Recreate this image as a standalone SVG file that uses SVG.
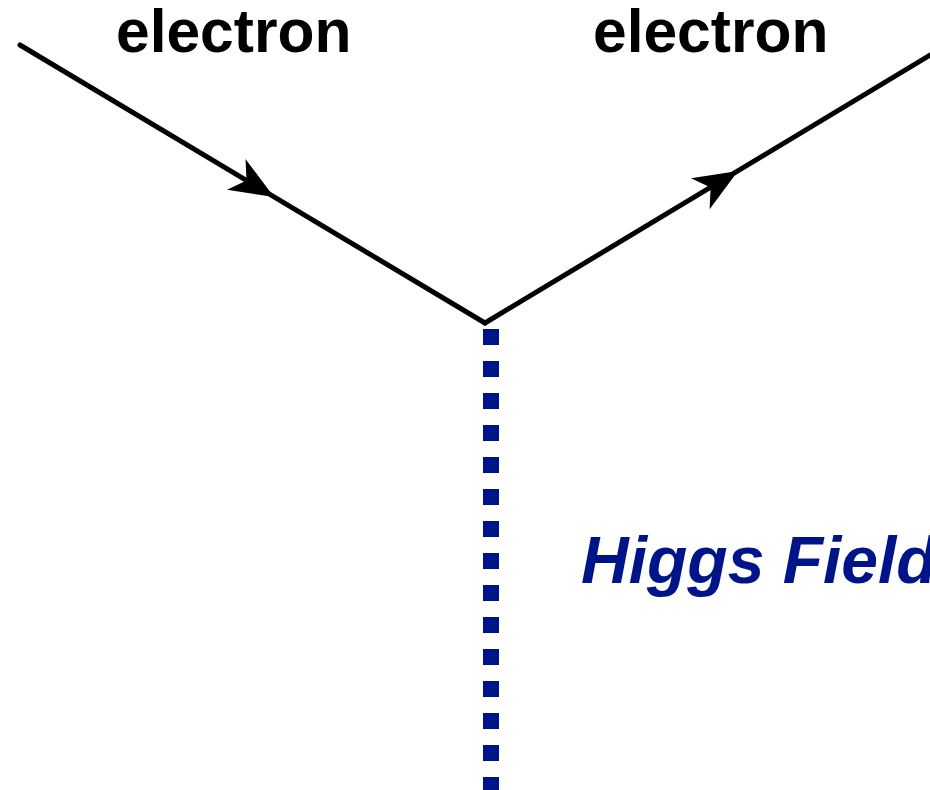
<svg xmlns="http://www.w3.org/2000/svg" width="930" height="790" viewBox="0 0 930 790">
  <style>
    .fermion { stroke: #000; stroke-width: 5; fill: none; stroke-linecap: round; }
    .label { font-family: "Liberation Sans", Arial, sans-serif; font-weight: bold; font-size: 60.5px; fill: #000; }
    .higgs-line { stroke: #001489; stroke-width: 16; stroke-dasharray: 16 16; fill: none; }
    .higgs-label { font-family: "Liberation Sans", Arial, sans-serif; font-weight: bold; font-style: italic; font-size: 66px; fill: #001489; }
  </style>
  <defs>
    <!-- notched arrowhead, tip at origin pointing along +x -->
    <path id="arrowhead" d="M0,0 L-44,-18 L-32,0 L-44,18 Z" fill="#000"/>
  </defs>

  <rect width="930" height="790" fill="#fff"/>

  <g id="connectors">
    <g id="incoming-electron">
      <line class="fermion" x1="20" y1="45" x2="485" y2="323"/>
      <use href="#arrowhead" transform="translate(274,197) rotate(30.9)"/>
    </g>
    <g id="outgoing-electron">
      <line class="fermion" x1="485" y1="323" x2="932" y2="54"/>
      <use href="#arrowhead" transform="translate(738,171) rotate(-31.1)"/>
    </g>
    <g id="higgs-propagator">
      <line class="higgs-line" x1="491" y1="329" x2="491" y2="795"/>
    </g>
  </g>

  <g id="label-electron-in">
    <text class="label" x="116" y="52">electron</text>
  </g>
  <g id="label-electron-out">
    <text class="label" x="593" y="52">electron</text>
  </g>
  <g id="label-higgs">
    <text class="higgs-label" x="581" y="583">Higgs Field</text>
  </g>
</svg>
